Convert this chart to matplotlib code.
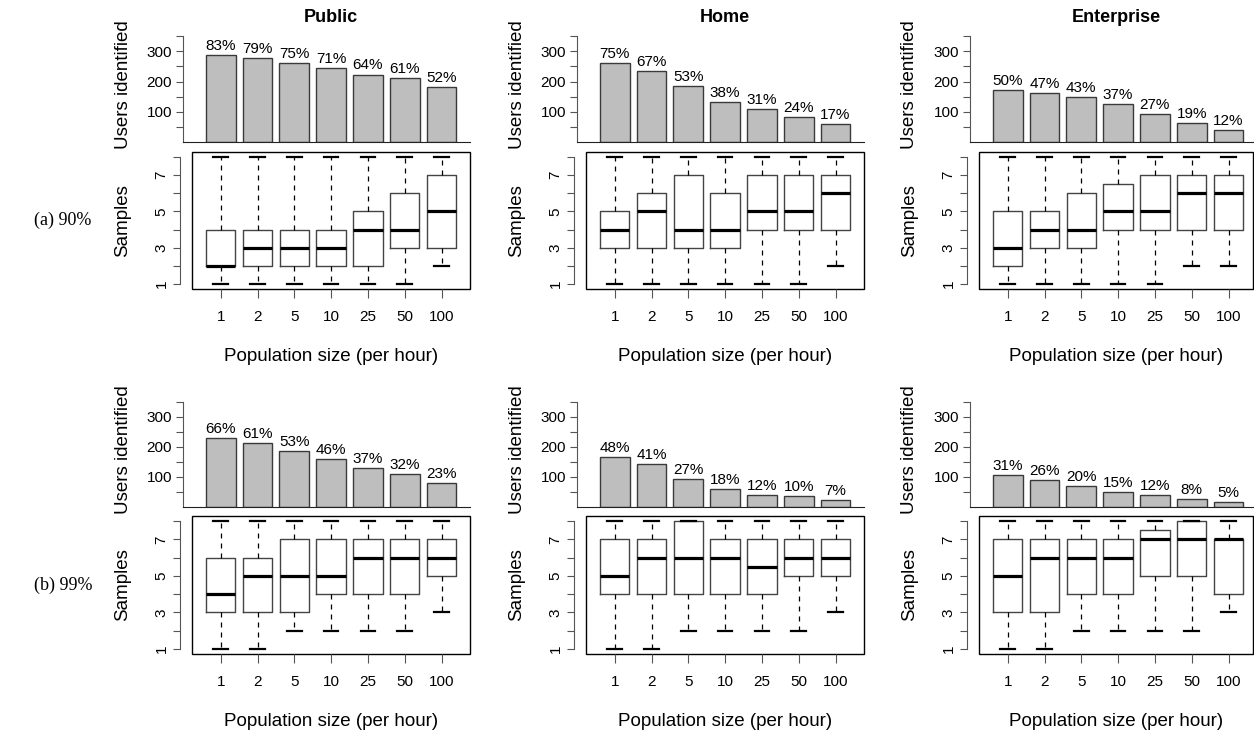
import matplotlib
matplotlib.use("Agg")
import matplotlib.pyplot as plt
from matplotlib.patches import Rectangle

plt.rcParams['font.family'] = ['Liberation Sans', 'DejaVu Sans']

W, H = 1254, 734

sizes = ['1', '2', '5', '10', '25', '50', '100']
columns = ['Public', 'Home', 'Enterprise']
rows = ['(a) 90%', '(b) 99%']

# users identified (bar heights)
public_90_users = [288, 276, 261, 246, 223, 211, 182]
home_90_users = [261, 234, 185, 132, 108, 83, 59]
enterprise_90_users = [173, 162, 149, 126, 93, 64, 40]
public_99_users = [230, 214, 185, 158, 130, 111, 81]
home_99_users = [165, 142, 92, 60, 41, 35, 24]
enterprise_99_users = [107, 91, 69, 50, 39, 25, 15]

# percentage labels above the bars
public_90_pct = [83, 79, 75, 71, 64, 61, 52]
home_90_pct = [75, 67, 53, 38, 31, 24, 17]
enterprise_90_pct = [50, 47, 43, 37, 27, 19, 12]
public_99_pct = [66, 61, 53, 46, 37, 32, 23]
home_99_pct = [48, 41, 27, 18, 12, 10, 7]
enterprise_99_pct = [31, 26, 20, 15, 12, 8, 5]

# samples boxplots: (low whisker, q1, median, q3, high whisker)
public_90_box = [(1, 2, 2, 4, 8), (1, 2, 3, 4, 8), (1, 2, 3, 4, 8), (1, 2, 3, 4, 8),
                 (1, 2, 4, 5, 8), (1, 3, 4, 6, 8), (2, 3, 5, 7, 8)]
home_90_box = [(1, 3, 4, 5, 8), (1, 3, 5, 6, 8), (1, 3, 4, 7, 8), (1, 3, 4, 6, 8),
               (1, 4, 5, 7, 8), (1, 4, 5, 7, 8), (2, 4, 6, 7, 8)]
enterprise_90_box = [(1, 2, 3, 5, 8), (1, 3, 4, 5, 8), (1, 3, 4, 6, 8), (1, 4, 5, 6.5, 8),
                     (1, 4, 5, 7, 8), (2, 4, 6, 7, 8), (2, 4, 6, 7, 8)]
public_99_box = [(1, 3, 4, 6, 8), (1, 3, 5, 6, 8), (2, 3, 5, 7, 8), (2, 4, 5, 7, 8),
                 (2, 4, 6, 7, 8), (2, 4, 6, 7, 8), (3, 5, 6, 7, 8)]
home_99_box = [(1, 4, 5, 7, 8), (1, 4, 6, 7, 8), (2, 4, 6, 8, 8), (2, 4, 6, 7, 8),
               (2, 4, 5.5, 7, 8), (2, 5, 6, 7, 8), (3, 5, 6, 7, 8)]
enterprise_99_box = [(1, 3, 5, 7, 8), (1, 3, 6, 7, 8), (2, 4, 6, 7, 8), (2, 4, 6, 7, 8),
                     (2, 5, 7, 7.5, 8), (2, 5, 7, 8, 8), (3, 4, 7, 7, 8)]

users = [[public_90_users, home_90_users, enterprise_90_users],
         [public_99_users, home_99_users, enterprise_99_users]]
pcts = [[public_90_pct, home_90_pct, enterprise_90_pct],
        [public_99_pct, home_99_pct, enterprise_99_pct]]
boxes = [[public_90_box, home_90_box, enterprise_90_box],
         [public_99_box, home_99_box, enterprise_99_box]]

# layout in pixels
col_axis = [183, 577, 970]
col_left = [192, 586, 979]
col_right = [470, 864, 1253]
spacing = 36.8
bar_top = [36, 401.7]
bar_bot = [142.3, 507]
box_top = [151.7, 516]
box_bot = [289.3, 654]

fig = plt.figure(figsize=(W / 100, H / 100), dpi=100)


def add_ax(x0, x1, y0, y1):
    return fig.add_axes([x0 / W, 1 - y1 / H, (x1 - x0) / W, (y1 - y0) / H])


def xlim_for(x0, x1, c):
    pos1 = col_left[c] + 0.78 * spacing
    return 1 - (pos1 - x0) / spacing, 1 + (x1 - pos1) / spacing


x = list(range(1, 8))

for r in range(2):
    for c in range(3):
        # bar chart of users identified
        ax = add_ax(col_axis[c], col_right[c], bar_top[r], bar_bot[r])
        ax.bar(x, users[r][c], width=0.81, color='#bebebe', edgecolor='#3a3a3a', linewidth=1)
        for xi, u, p in zip(x, users[r][c], pcts[r][c]):
            ax.annotate('%d%%' % p, (xi, u), xytext=(0, 1.5), textcoords='offset points',
                        ha='center', va='bottom', fontsize=11, annotation_clip=False)
        ax.set_xlim(*xlim_for(col_axis[c], col_right[c], c))
        ax.set_ylim(0, 350)
        ax.spines['top'].set_visible(False)
        ax.spines['right'].set_visible(False)
        ax.spines['left'].set_color('#555555')
        ax.spines['bottom'].set_color('#222222')
        ax.set_xticks([])
        ax.set_yticks([50, 100, 150, 200, 250, 300, 350])
        ax.set_yticklabels(['', '100', '', '200', '', '300', ''])
        ax.tick_params(axis='y', length=5, pad=3, labelsize=11, color='#555555')
        fig.text((col_axis[c] - 60) / W, 1 - 85 / H if r == 0 else 1 - 449.7 / H,
                 'Users identified', rotation=90, ha='center', va='center', fontsize=13.5)

        # boxplot of samples
        bx = add_ax(col_left[c], col_right[c], box_top[r], box_bot[r])
        stats = [dict(whislo=b[0], q1=b[1], med=b[2], q3=b[3], whishi=b[4]) for b in boxes[r][c]]
        bx.bxp(stats, positions=x, widths=0.8, capwidths=0.4, showfliers=False,
               boxprops=dict(color='#444444', linewidth=1),
               medianprops=dict(color='black', linewidth=2.3),
               whiskerprops=dict(color='black', linewidth=0.9, linestyle=(0, (4, 4))),
               capprops=dict(color='black', linewidth=1.6))
        bx.set_xlim(*xlim_for(col_left[c], col_right[c], c))
        bx.set_ylim(0.72, 8.28)
        for s in ['top', 'right', 'bottom']:
            bx.spines[s].set_visible(False)
        bx.spines['left'].set_position(('outward', 9))
        bx.spines['left'].set_bounds(1, 8)
        bx.spines['left'].set_color('#555555')
        bx.add_patch(Rectangle((0, 0), 1, 1, transform=bx.transAxes, fill=False,
                               edgecolor='black', linewidth=1, clip_on=False))
        bx.set_xticks(x)
        bx.set_xticklabels(sizes)
        bx.set_yticks(range(1, 9))
        bx.set_yticklabels(['1', '', '3', '', '5', '', '7', ''])
        bx.tick_params(axis='x', length=6.5, pad=8.5, labelsize=11, color='#555555')
        bx.tick_params(axis='y', length=5, pad=3, labelsize=11, color='#555555', labelrotation=90)
        for lab in bx.get_yticklabels():
            lab.set_va('center')
        fig.text((col_axis[c] - 60) / W, 1 - (box_top[r] + box_bot[r]) / 2 / H,
                 'Samples', rotation=90, ha='center', va='center', fontsize=13.5)
        fig.text((col_left[c] + col_right[c]) / 2 / W, 1 - (box_bot[r] + 67.4) / H,
                 'Population size (per hour)', ha='center', va='center', fontsize=13.5)

        if r == 0:
            fig.text((col_left[c] + col_right[c]) / 2 / W, 1 - 17 / H, columns[c],
                     ha='center', va='center', fontsize=13, fontweight='bold')

    fig.text(63 / W, 1 - (box_top[r] + box_bot[r]) / 2 / H, rows[r], ha='center', va='center',
             fontsize=13, family=['Liberation Serif', 'DejaVu Serif'])

fig.savefig('out.png', dpi=100)
